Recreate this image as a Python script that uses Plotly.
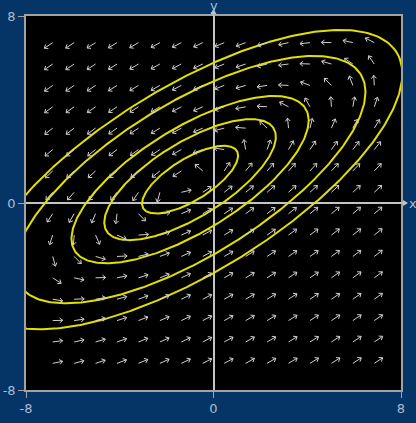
import numpy as np
import plotly.graph_objects as go

# Linear system  x' = a*x + b*y + f1,  y' = c*x + d*y + f2  (a + d = 0: a centre)
MATRIX = [[1.0, -2.0], [1.0, -1.0]]
FORCING = [3.0, 2.0]

# Sample points of the direction field (tail of each arrow)
GRID_X = np.linspace(-6.86, 6.86, 16)
GRID_Y = np.linspace(-6.86, 6.86, 16)

# Values of the conserved quantity drawn as closed orbits
LEVELS = [2.1, 6.7, 12.8, 28.0, 41.0]

AXIS_RANGE = [-8, 8]
TICK_VALUES = [-8, 0, 8]
TICK_TEXT = ["-8", "0", "8"]

BLUE = "#053467"
LABEL = "#a9bdd2"
ARROW_COLOR = "#cfcfcf"
ORBIT_COLOR = "#e2e000"

(a, b), (c, d) = MATRIX
f1, f2 = FORCING
# equilibrium point
cx, cy = np.linalg.solve(np.array(MATRIX), -np.array(FORCING))

# ---- direction field: unit-length arrows with open heads ----
ARROW_LEN = 0.43
HEAD_LEN = 0.17
HEAD_ANG = np.radians(38)
ax_pts, ay_pts = [], []
for x0 in GRID_X:
    for y0 in GRID_Y:
        vx = a * x0 + b * y0 + f1
        vy = c * x0 + d * y0 + f2
        n = np.hypot(vx, vy)
        if n == 0:
            continue
        ux, uy = vx / n, vy / n
        x1, y1 = x0 + ARROW_LEN * ux, y0 + ARROW_LEN * uy
        ax_pts += [x0, x1, None]
        ay_pts += [y0, y1, None]
        back = np.arctan2(-uy, -ux)
        for s in (-1, 1):
            t = back + s * HEAD_ANG
            ax_pts += [x1, x1 + HEAD_LEN * np.cos(t), None]
            ay_pts += [y1, y1 + HEAD_LEN * np.sin(t), None]

# ---- closed orbits: level sets of H(u,v) = c u^2 + (d-a) u v - b v^2 ----
theta = np.linspace(0, 2 * np.pi, 721)
hq = c * np.cos(theta) ** 2 + (d - a) * np.cos(theta) * np.sin(theta) - b * np.sin(theta) ** 2

fig = go.Figure()
for h in LEVELS:
    r = np.sqrt(h / hq)
    fig.add_trace(go.Scatter(
        x=cx + r * np.cos(theta), y=cy + r * np.sin(theta),
        mode="lines", line=dict(color=ORBIT_COLOR, width=2),
        hoverinfo="skip", showlegend=False,
    ))

fig.add_trace(go.Scatter(
    x=ax_pts, y=ay_pts, mode="lines",
    line=dict(color=ARROW_COLOR, width=1),
    hoverinfo="skip", showlegend=False,
))

axis_common = dict(
    range=AXIS_RANGE, tickvals=TICK_VALUES, ticktext=TICK_TEXT,
    showgrid=False, zeroline=True, zerolinecolor="#c4c4c4", zerolinewidth=1.5,
    showline=True, mirror=True, linecolor="#a2a2a2", linewidth=1.5,
    ticks="outside", ticklen=6, tickcolor="#a2a2a2", tickwidth=1,
    tickfont=dict(family="DejaVu Sans", size=13, color=LABEL),
    fixedrange=True, automargin=False,
)

W, H = 416, 423
ML, MR, MT, MB = 26, 15, 16, 33
pw, ph = W - ML - MR, H - MT - MB

fig.update_layout(
    width=W, height=H, autosize=False,
    margin=dict(l=ML, r=MR, t=MT, b=MB, pad=0, autoexpand=False),
    paper_bgcolor=BLUE, plot_bgcolor="black",
    xaxis=axis_common, yaxis=axis_common,
    showlegend=False,
)

# axis arrows sticking out of the frame
dy_unit = (AXIS_RANGE[1] - AXIS_RANGE[0]) / ph
dx_unit = (AXIS_RANGE[1] - AXIS_RANGE[0]) / pw
fig.add_shape(type="line", xref="paper", yref="y",
              x0=1, x1=1 + 3 / pw, y0=0, y1=0,
              line=dict(color="#c4c4c4", width=1.5))
fig.add_shape(type="path", xref="paper", yref="y",
              path=f"M {1 + 2 / pw},{3 * dy_unit} L {1 + 7 / pw},0 L {1 + 2 / pw},{-3 * dy_unit} Z",
              fillcolor="#c4c4c4", line=dict(width=0))
fig.add_shape(type="line", xref="x", yref="paper",
              x0=0, x1=0, y0=1, y1=1 + 3 / ph,
              line=dict(color="#c4c4c4", width=1.5))
fig.add_shape(type="path", xref="x", yref="paper",
              path=f"M {-3 * dx_unit},{1 + 2 / ph} L 0,{1 + 7 / ph} L {3 * dx_unit},{1 + 2 / ph} Z",
              fillcolor="#c4c4c4", line=dict(width=0))

fig.add_annotation(text="x", xref="paper", yref="y", x=1 + 12 / pw, y=0,
                   showarrow=False, xanchor="center", yanchor="middle",
                   font=dict(family="DejaVu Sans", size=13, color=LABEL))
fig.add_annotation(text="y", xref="x", yref="paper", x=0, y=1 + 11 / ph,
                   showarrow=False, xanchor="center", yanchor="middle",
                   font=dict(family="DejaVu Sans", size=13, color=LABEL))

fig.write_html("out.html")
